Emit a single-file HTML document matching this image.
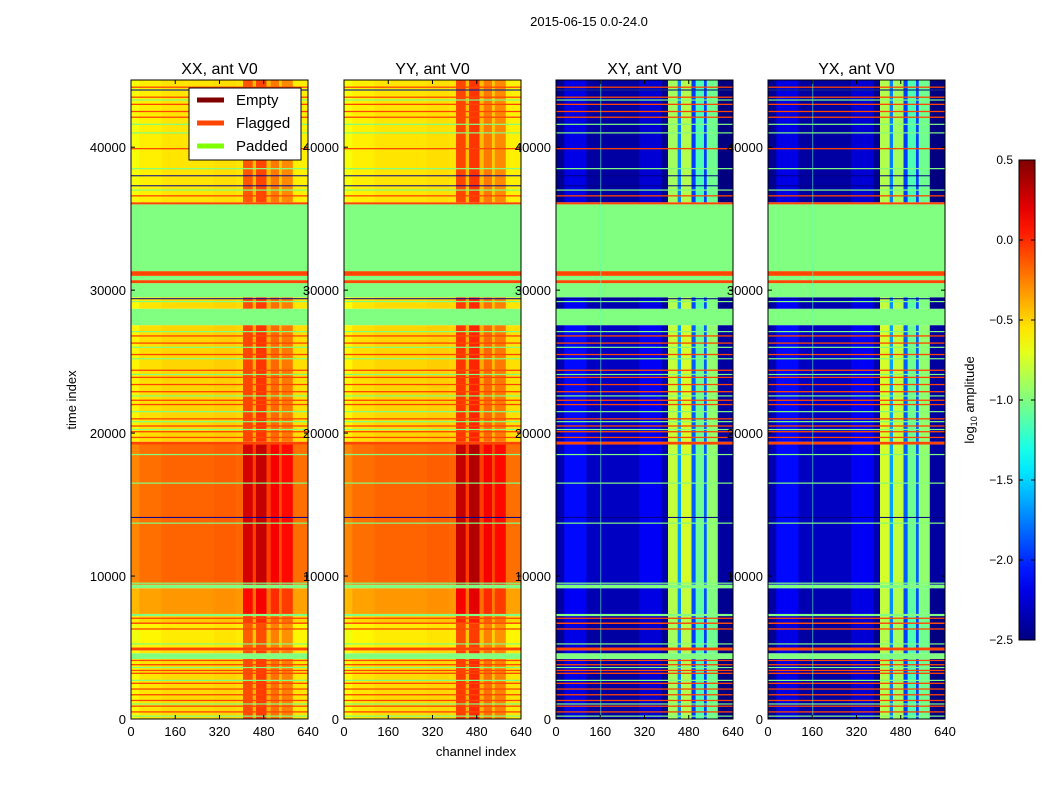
<!DOCTYPE html>
<html><head><meta charset="utf-8"><style>
body{margin:0;background:#fff;width:1050px;height:800px;overflow:hidden}
svg{display:block;font-family:"Liberation Sans","DejaVu Sans",sans-serif}
</style></head><body>
<svg id="fig" width="1050" height="800" viewBox="0 0 1050 800" xmlns="http://www.w3.org/2000/svg">
<rect width="1050" height="800" fill="#fff"/>
<text x="589" y="26" font-size="13" text-anchor="middle">2015-06-15 0.0-24.0</text>
<g id="panels"></g>
<text transform="translate(76,400) rotate(-90)" font-size="13" text-anchor="middle">time index</text>
<text x="476" y="756" font-size="13" text-anchor="middle">channel index</text>
<g id="cbar"></g>
<text transform="translate(974,400) rotate(-90)" font-size="13" text-anchor="middle">log<tspan font-size="9" dy="3">10</tspan><tspan dy="-3"> amplitude</tspan></text>
<g id="legend">
<rect x="189" y="88" width="112" height="72" fill="#fff" stroke="#000" stroke-width="1"/>
<line x1="197" y1="100" x2="224" y2="100" stroke="#800000" stroke-width="5"/>
<text x="236" y="105" font-size="15">Empty</text>
<line x1="197" y1="123" x2="224" y2="123" stroke="#ff4500" stroke-width="5"/>
<text x="236" y="128" font-size="15">Flagged</text>
<line x1="197" y1="146" x2="224" y2="146" stroke="#7fff00" stroke-width="5"/>
<text x="236" y="151" font-size="15">Padded</text>
</g>
</svg>
<script>
// ---- data ----
const panelTitles = ["XX, ant V0","YY, ant V0","XY, ant V0","YX, ant V0"];
const bandStart = [0,4200,4600,4800,5000,6650,6750,7200,7350,9150,9400,19200,19400,27550,28700,29500,30490,30700,31000,31330,36000,36150];
const bandEnd   = [4200,4600,4800,5000,6650,6750,7200,7350,9150,9400,19200,19400,27550,28700,29500,30490,30700,31000,31330,36000,36150,44700];
const bandKind  = ["d","p","d","f","d","f","d","p","d","p","d","f","d","p","d","p","f","p","f","p","f","d"];
const bandOffAuto  = [0,0,0,0,-0.05,0,0.05,0,0.2,0,0.35,0,0.02,0,0,0,0,0,0,0,0,-0.03];
const bandOffCross = [-0.05,0,-0.05,0,-0.05,0,-0.05,0,0,0,0.05,0,0.05,0,0,0,0,0,0,0,0,-0.05];
const chanStart = [0,30,110,300,380,405,440,452,490,505,535,545,585];
const chanEnd   = [30,110,300,380,405,440,452,490,505,535,545,585,640];
const profXX = [-0.62,-0.55,-0.52,-0.5,-0.52,-0.1,-0.4,-0.05,-0.4,-0.2,-0.45,-0.25,-0.55];
const profYY = [-0.62,-0.55,-0.52,-0.5,-0.52,-0.05,-0.4,0.0,-0.4,-0.2,-0.45,-0.25,-0.55];
const profXY = [-2.4,-2.15,-2.35,-2.2,-2.4,-0.85,-1.7,-0.8,-1.9,-1.1,-1.9,-1.0,-2.45];
const profYX = [-2.4,-2.15,-2.35,-2.2,-2.4,-0.8,-1.7,-0.85,-1.9,-1.1,-1.9,-1.0,-2.45];
const flagLines = [500,900,1300,1700,2100,2500,3200,3400,3800,4100,6300,7050,19700,20100,20500,21000,22000,22300,22900,23400,23900,24400,25500,26300,26800,36600,39900,42100,42500,43000,43500,44200];
const padLines = [200,1050,2700,3600,5250,9500,13700,16500,18500,20250,20800,21500,22600,24100,25200,26000,27100,29200,37000,38500,41000,41600,43300,44000];
const darkLines = [14100,29400,37300,38000,44000];
const xTicks = [0,160,320,480,640];
const yTicks = [0,10000,20000,30000,40000];
const cbTicks = [0.5,0.0,-0.5,-1.0,-1.5,-2.0,-2.5];

// ---- layout ----
const panelX = [131,344,556,768], PW=177, PT=80, PB=719;
const VMIN=-2.5, VMAX=0.5;
const NS="http://www.w3.org/2000/svg";
function jet(v){let x=(v-VMIN)/(VMAX-VMIN);x=Math.max(0,Math.min(1,x));
 const c=t=>Math.round(255*Math.max(0,Math.min(1,1.5-Math.abs(4*x-t))));
 return `rgb(${c(3)},${c(2)},${c(1)})`;}
function mk(tag,attrs,parent){const e=document.createElementNS(NS,tag);for(const k in attrs)e.setAttribute(k,attrs[k]);parent.appendChild(e);return e;}
const yS=t=>PB-t*(PB-PT)/44700;
const FLAG="#ff4500", PAD="#80ff80";
const profs=[profXX,profYY,profXY,profYX];
const panels=document.getElementById('panels');
for(let p=0;p<4;p++){
 const x0=panelX[p], xS=c=>x0+c*PW/640;
 const g=mk('g',{},panels);
 
 
 const cross=p>=2, offs=cross?bandOffCross:bandOffAuto;
 for(let b=0;b<bandStart.length;b++){
  const y1=yS(bandEnd[b]), y2=yS(bandStart[b]);
  if(bandKind[b]!=="d"){
   const r=mk('rect',{x:x0,y:y1,width:PW,height:y2-y1,fill:bandKind[b]==="f"?FLAG:PAD},g);
   
   
   continue;}
  for(let c=0;c<chanStart.length;c++){
   const r=mk('rect',{x:xS(chanStart[c]),y:y1,width:xS(chanEnd[c])-xS(chanStart[c])+0.3,height:y2-y1,fill:jet(profs[p][c]+offs[b])},g);
   
   
  }
 }
 for(const t of flagLines){const r=mk('rect',{x:x0,y:yS(t)-0.6,width:PW,height:1.3,fill:FLAG},g);
  }
 for(const t of padLines){const r=mk('rect',{x:x0,y:yS(t)-0.6,width:PW,height:1.2,fill:PAD},g);
  }
 for(const t of darkLines){const r=mk('rect',{x:x0,y:yS(t)-0.5,width:PW,height:1,fill:cross?"#000080":"#00008f"},g);
  }
 if(cross){for(const c of [160]){const r=mk('rect',{x:xS(c),y:PT,width:1,height:PB-PT,fill:"#60ffb0",opacity:0.6},g);
  }}
 const fr=mk('rect',{x:x0,y:PT,width:PW,height:PB-PT,fill:'none',stroke:'#000','stroke-width':1},g);
 
 for(const v of xTicks){const xx=xS(v);
  mk('line',{x1:xx,y1:PB,x2:xx,y2:PB-4,stroke:'#000'},g);mk('line',{x1:xx,y1:PT,x2:xx,y2:PT+4,stroke:'#000'},g);
  const t=mk('text',{x:xx,y:PB+17,'font-size':13,'text-anchor':'middle'},g);t.textContent=v;
  }
 for(const v of yTicks){const yy=yS(v);
  mk('line',{x1:x0,y1:yy,x2:x0+4,y2:yy,stroke:'#000'},g);mk('line',{x1:x0+PW,y1:yy,x2:x0+PW-4,y2:yy,stroke:'#000'},g);
  const t=mk('text',{x:x0-5,y:yy+5,'font-size':13,'text-anchor':'end'},g);t.textContent=v;
  }
 const tt=mk('text',{x:x0+PW/2,y:74,'font-size':16,'text-anchor':'middle'},g);tt.textContent=panelTitles[p];
 
}
// colorbar
const cb=document.getElementById('cbar');
const CX=1019,CW=16,CT=160,CB=640;
const defs=mk('defs',{},cb);const lg=mk('linearGradient',{id:'jetg',x1:0,y1:1,x2:0,y2:0},defs);
for(let i=0;i<=20;i++){mk('stop',{offset:i/20,'stop-color':jet(VMIN+(VMAX-VMIN)*i/20)},lg);}
const cr=mk('rect',{x:CX,y:CT,width:CW,height:CB-CT,fill:'url(#jetg)',stroke:'#000'},cb);

const cy=v=>CB-(v-VMIN)/(VMAX-VMIN)*(CB-CT);
for(const v of cbTicks){const yy=cy(v);
 mk('line',{x1:CX,y1:yy,x2:CX+4,y2:yy,stroke:'#000'},cb);mk('line',{x1:CX+CW,y1:yy,x2:CX+CW-4,y2:yy,stroke:'#000'},cb);
 const t=mk('text',{x:1013,y:yy+4,'font-size':12,'text-anchor':'end'},cb);t.textContent=(v<0?"\u2212":"")+Math.abs(v).toFixed(1);
 }
</script>
</body></html>
